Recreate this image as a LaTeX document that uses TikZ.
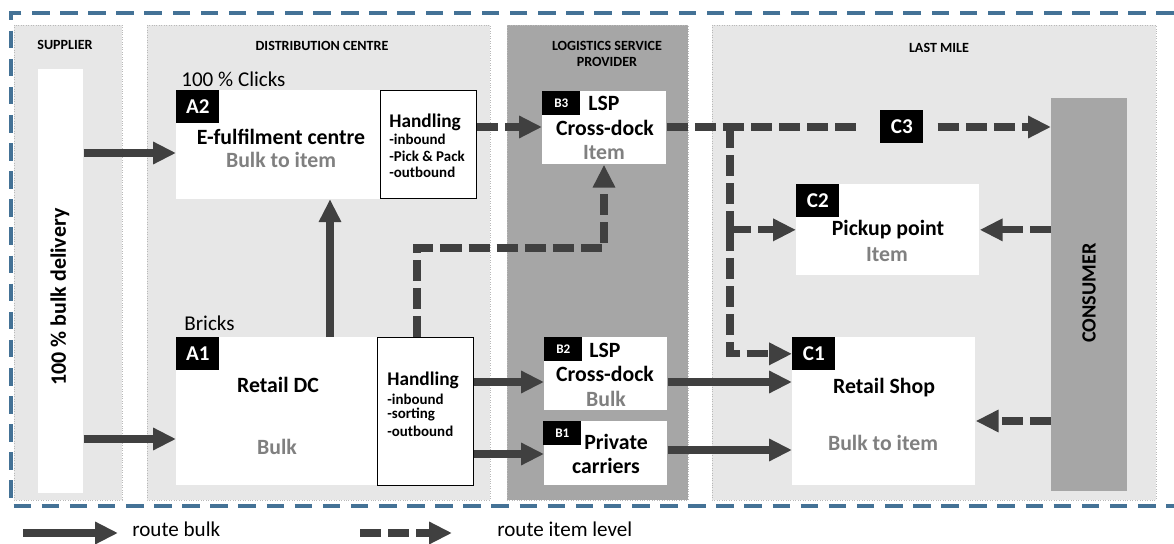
\documentclass[tikz,border=0pt]{standalone}
\usepackage{fontspec}
\setmainfont{Carlito}
\usetikzlibrary{arrows.meta}

\definecolor{panelgray}{RGB}{231,231,231}
\definecolor{lspgray}{RGB}{166,166,166}
\definecolor{arrowgray}{RGB}{64,64,64}
\definecolor{textgray}{RGB}{128,128,128}
\definecolor{frameblue}{RGB}{68,114,150}

\tikzset{
  panel/.style={fill=panelgray, draw=gray!55, densely dotted, line width=0.4pt},
  whitebox/.style={fill=white, anchor=north west, inner sep=0pt},
  handbox/.style={fill=white, draw=black, line width=0.5pt, anchor=north west, inner sep=0pt},
  tag/.style={fill=black, text=white, font=\bfseries\fontsize{12}{12}\selectfont, anchor=north west, inner sep=0pt, minimum width=0.86cm, minimum height=0.66cm},
  smalltag/.style={tag, font=\bfseries\fontsize{7.5}{8}\selectfont, minimum width=0.76cm, minimum height=0.48cm},
  head/.style={font=\bfseries\fontsize{8}{9}\selectfont, align=center, inner sep=0pt},
  big/.style={font=\bfseries\fontsize{12.4}{14}\selectfont, inner sep=0pt},
  grey/.style={big, text=textgray},
  hand/.style={font=\bfseries\fontsize{11}{13}\selectfont, inner sep=0pt, anchor=west},
  sub/.style={font=\bfseries\fontsize{8.5}{10}\selectfont, inner sep=0pt, anchor=west},
  plain/.style={font=\fontsize{12}{14}\selectfont, inner sep=0pt},
  bulk/.style={draw=arrowgray, line width=4pt, -{Triangle[length=13pt,width=12pt]}},
  item/.style={bulk, dash pattern=on 12pt off 4pt},
  itemline/.style={draw=arrowgray, line width=4pt, dash pattern=on 12pt off 4pt},
}

\begin{document}
\begin{tikzpicture}[x=0.02cm,y=-0.02cm]
\useasboundingbox (0,0) rectangle (1174,544);

% panels
\draw[panel] (14,25) rectangle (122,500);
\draw[panel] (147,25) rectangle (490,500);
\draw[panel, fill=lspgray] (507,25) rectangle (688,500);
\draw[panel] (712,25) rectangle (1156,500);
\draw[frameblue, line width=2pt, dash pattern=on 10pt off 6pt] (1174,13) -- (11,13) -- (11,506) -- (1174,506);

\node[head] (suphead) at (65,45) {SUPPLIER};
\node[head] (dchead) at (322,46) {DISTRIBUTION CENTRE};
\node[head] (lsphead) at (607,54) {LOGISTICS SERVICE\\PROVIDER};
\node[head] (lmhead) at (939,48) {LAST MILE};

% supplier
\node[whitebox, minimum width=0.9cm, minimum height=8.48cm] (supbar) at (38,69) {};
\node[font=\bfseries\fontsize{12.5}{14}\selectfont, rotate=90, inner sep=0pt] (suptext) at (60,297) {100 \% bulk delivery};

% distribution centre
\node[plain, anchor=west] (clicks) at (181,79) {100 \% Clicks};
\node[whitebox, minimum width=4.08cm, minimum height=2.17cm] (a2) at (176,90) {};
\node[handbox, minimum width=1.92cm, minimum height=2.17cm] (a2h) at (380,90) {};
\node[tag] (a2tag) at (176,90) {A2};
\node[big] (a2name) at (281,137) {E-fulfilment centre};
\node[grey] (a2sub) at (281,160) {Bulk to item};
\node[hand] (a2hand) at (389,122) {Handling};
\node[sub] (a2in) at (389,139) {-inbound};
\node[sub] (a2pick) at (389,156) {-Pick \& Pack};
\node[sub] (a2out) at (389,172) {-outbound};

\node[plain, anchor=west] (bricks) at (184,323) {Bricks};
\node[whitebox, minimum width=4.02cm, minimum height=2.96cm] (a1) at (176,337) {};
\node[handbox, minimum width=1.92cm, minimum height=2.96cm] (a1h) at (377,337) {};
\node[tag] (a1tag) at (176,337) {A1};
\node[big] (a1name) at (278,385) {Retail DC};
\node[grey] (a1sub) at (277,447) {Bulk};
\node[hand] (a1hand) at (387,380) {Handling};
\node[sub] (a1in) at (387,399) {-inbound};
\node[sub] (a1sort) at (387,415) {-sorting};
\node[sub] (a1out) at (387,431) {-outbound};

% logistics service provider
\node[whitebox, minimum width=2.48cm, minimum height=1.46cm] (b3) at (542,91) {};
\node[smalltag] (b3tag) at (542,91) {B3};
\node[big] (b3lsp) at (604,103) {LSP};
\node[big] (b3name) at (605,128) {Cross-dock};
\node[grey] (b3sub) at (604,153) {Item};

\node[whitebox, minimum width=2.46cm, minimum height=1.46cm] (b2) at (544,337) {};
\node[smalltag] (b2tag) at (544,337) {B2};
\node[big] (b2lsp) at (605,350) {LSP};
\node[big] (b2name) at (605,374) {Cross-dock};
\node[grey] (b2sub) at (606,399) {Bulk};

\node[whitebox, minimum width=2.46cm, minimum height=1.28cm] (b1) at (544,421) {};
\node[smalltag] (b1tag) at (543,421) {B1};
\node[big] (b1name) at (616,442) {Private};
\node[big] (b1sub) at (606,466) {carriers};

% last mile
\node[whitebox, minimum width=3.66cm, minimum height=1.82cm] (c2) at (796,184) {};
\node[tag] (c2tag) at (796,184) {C2};
\node[big] (c2name) at (888,230) {Pickup point};
\node[grey] (c2sub) at (887,255) {Item};

\node[whitebox, minimum width=3.66cm, minimum height=2.96cm] (c1) at (792,337) {};
\node[tag] (c1tag) at (792,337) {C1};
\node[big] (c1name) at (884,388) {Retail Shop};
\node[grey] (c1sub) at (883,443) {Bulk to item};

\node[tag] (c3) at (880,110) {C3};

\node[whitebox, fill=lspgray, minimum width=1.52cm, minimum height=7.86cm] (consumer) at (1051,98) {};
\node[font=\bfseries\fontsize{11.5}{13}\selectfont, rotate=90, inner sep=0pt] (context) at (1089,293) {CONSUMER};

% routes bulk
\draw[bulk] (supbar.east |- 0,153) -- (a2.west |- 0,153);
\draw[bulk] (supbar.east |- 0,439) -- (a1.west |- 0,439);
\draw[bulk] (a1.north -| 330,0) -- (a2.south -| 330,0);
\draw[bulk] (a1h.east |- 0,382) -- (b2.west |- 0,382);
\draw[bulk] (a1h.east |- 0,454) -- (b1.west |- 0,454);
\draw[bulk] (b2.east |- 0,382) -- (c1.west |- 0,382);
\draw[bulk] (b1.east |- 0,450) -- (c1.west |- 0,450);

% routes item level
\coordinate (bend) at (604,248);
\coordinate (split) at (730,127);
\draw[item] (a2h.east |- 0,127) -- (b3.west |- 0,127);
\draw[item] (a1h.north -| 417,0) |- (bend) -- (b3.south -| bend);
\draw[itemline, shorten >=0.36cm] (b3.east |- split) -- (c3.west |- split);
\draw[item, shorten <=0.28cm] (c3.east |- split) -- (consumer.west |- split);
\draw[itemline] (split) -- (split |- c2.west);
\draw[item] (split |- c2.west) |- (c1tag.west);
\draw[item] (split |- c2.west) -- (c2.west);
\draw[item] (consumer.west |- c2.east) -- (c2.east);
\draw[item] (consumer.west |- 0,421) -- (c1.east |- 0,421);

% legend
\coordinate (lb1) at (23,533);
\coordinate (lb2) at (118,533);
\coordinate (li1) at (360,533);
\coordinate (li2) at (452,533);
\draw[bulk] (lb1) -- (lb2);
\draw[item] (li1) -- (li2);
\node[plain, anchor=west] (lbtext) at (132,529) {route bulk};
\node[plain, anchor=west] (litext) at (497,529) {route item level};
\end{tikzpicture}
\end{document}
